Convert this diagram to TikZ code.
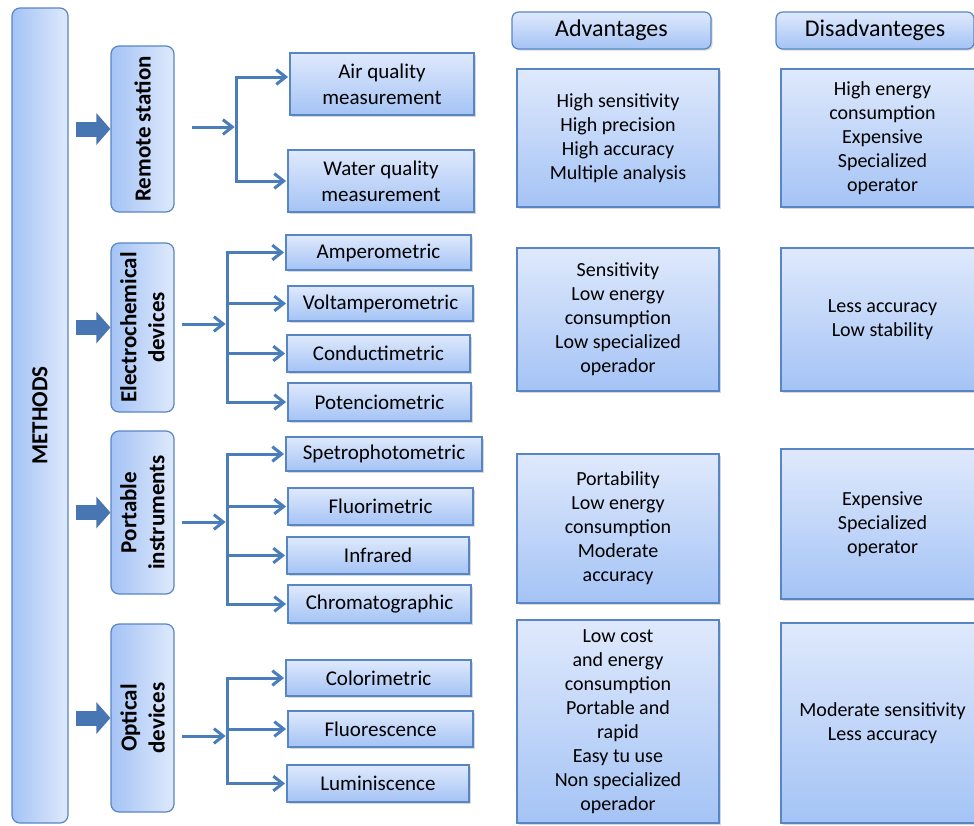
\documentclass[tikz,border=0pt]{standalone}
\usepackage{fontspec}
\setmainfont{Carlito}
\usepackage{tikz}
\usetikzlibrary{arrows.meta}
\usetikzlibrary{shadows}
\usetikzlibrary{calc}
\usepackage{xcolor}

\definecolor{boxline}{RGB}{88,134,196}
\definecolor{boxtop}{RGB}{223,233,252}
\definecolor{boxbottom}{RGB}{164,195,245}
\definecolor{linkblue}{RGB}{74,126,187}
\definecolor{bigblue}{RGB}{72,118,178}

\tikzset{
  softshadow/.style={drop shadow={shadow xshift=1.2pt,shadow yshift=-1.2pt,opacity=0.3}},
  leafbox/.style={draw=boxline,line width=0.9pt,top color=boxtop,bottom color=boxbottom,inner sep=0pt,align=center,font=\fontsize{15.75}{19.5}\selectfont,softshadow},
  infobox/.style={draw=boxline,line width=0.9pt,top color=boxtop,bottom color=boxbottom,inner sep=0pt,align=center,font=\fontsize{15}{18}\selectfont,softshadow},
  headbox/.style={draw=boxline,line width=0.9pt,rounded corners=5pt,top color=boxtop,bottom color=boxbottom,inner sep=0pt,font=\fontsize{18}{21}\selectfont,softshadow},
  sidebox/.style={draw=boxline,line width=0.9pt,rounded corners=6pt,rotate=90,left color=boxbottom,right color=boxtop,inner sep=0pt,align=center,font=\bfseries\fontsize{17.25}{21}\selectfont},
  bigarrow/.style={draw=bigblue,line width=11.25pt,-{Triangle[length=10.5pt,width=23.25pt]}},
  link/.style={draw=linkblue,line width=2.25pt,shorten >=1pt,-{Straight Barb[length=7pt,width=11pt]}},
  bar/.style={draw=linkblue,line width=2.25pt,line cap=rect}
}

\begin{document}
\begin{tikzpicture}[x=0.75pt,y=0.75pt,yscale=-1,xscale=1]
\path[fill=white,use as bounding box] (0,0) rectangle (974,825);
\clip (0,0) rectangle (974,825);

%Shape: Rounded Rect [methods]
\node[sidebox,minimum width=611.25pt,minimum height=42pt] (methods) at (40,415.5) {METHODS};

%Shape: Rounded Rect [groups]
\node[sidebox,minimum width=124.5pt,minimum height=47.25pt] (rs) at (142.5,129) {Remote station};
\node[sidebox,minimum width=126.75pt,minimum height=47.25pt] (ec) at (142.5,327.5) {Electrochemical\\devices};
\node[sidebox,minimum width=122.25pt,minimum height=47.25pt] (pi) at (142.5,512.5) {Portable\\instruments};
\node[sidebox,minimum width=141pt,minimum height=47.25pt] (od) at (142.5,718) {Optical\\devices};

%Shape: Rect [methods of each group]
\node[leafbox,minimum width=138pt,minimum height=46.5pt] (air) at (382,84) {Air quality\\measurement};
\node[leafbox,minimum width=139.5pt,minimum height=46.5pt] (water) at (381,181) {Water quality\\measurement};

\node[leafbox,minimum width=138.75pt,minimum height=26.25pt] (amp) at (378.5,252.5) {Amperometric};
\node[leafbox,minimum width=138.75pt,minimum height=26.25pt] (volt) at (380.5,303.5) {Voltamperometric};
\node[leafbox,minimum width=137.25pt,minimum height=27.75pt] (cond) at (378.5,353.5) {Conductimetric};
\node[leafbox,minimum width=137.25pt,minimum height=28.5pt] (pot) at (379.5,402) {Potenciometric};

\node[leafbox,minimum width=147pt,minimum height=25.5pt] (spet) at (384,454) {Spetrophotometric};
\node[leafbox,minimum width=138.75pt,minimum height=27.75pt] (fluo) at (380.5,506.5) {Fluorimetric};
\node[leafbox,minimum width=136.5pt,minimum height=27.75pt] (infra) at (378,555.5) {Infrared};
\node[leafbox,minimum width=137.25pt,minimum height=28.5pt] (chrom) at (379.5,604) {Chromatographic};

\node[leafbox,minimum width=138.75pt,minimum height=27pt] (color) at (378.5,678) {Colorimetric};
\node[leafbox,minimum width=138.75pt,minimum height=27pt] (fluor) at (380.5,729) {Fluorescence};
\node[leafbox,minimum width=136.5pt,minimum height=27.75pt] (lum) at (378,783.5) {Luminiscence};

%Shape: Rounded Rect [headers]
\node[headbox,minimum width=149.25pt,minimum height=27.75pt] (advhead) at (611.5,30.5) {Advantages};
\node[headbox,minimum width=148.5pt,minimum height=27.75pt] (dishead) at (875,30.5) {Disadvanteges};

%Shape: Rect [advantages]
\node[infobox,minimum width=151.5pt,minimum height=103.5pt] (adv1) at (618,138) {High sensitivity\\High precision\\High accuracy\\Multiple analysis};
\node[infobox,minimum width=151.5pt,minimum height=107.25pt] (adv2) at (618,319.5) {Sensitivity\\Low energy\\consumption\\Low specialized\\operador};
\node[infobox,minimum width=151.5pt,minimum height=111.75pt] (adv3) at (618,528.5) {Portability\\Low energy\\consumption\\Moderate\\accuracy};
\node[infobox,minimum width=151.5pt,minimum height=152.25pt] (adv4) at (618,721.5) {Low cost\\and energy\\consumption\\Portable and\\rapid\\Easy tu use\\Non specialized\\operador};

%Shape: Rect [disadvantages]
\node[infobox,minimum width=152.25pt,minimum height=103.5pt] (dis1) at (882.5,138) {High energy\\consumption\\Expensive\\Specialized\\operator};
\node[infobox,minimum width=152.25pt,minimum height=107.25pt] (dis2) at (882.5,319.5) {Less accuracy\\Low stability};
\node[infobox,minimum width=152.25pt,minimum height=112.5pt] (dis3) at (882.5,524) {Expensive\\Specialized\\operator};
\node[infobox,minimum width=152.25pt,minimum height=150pt] (dis4) at (882.5,723) {Moderate sensitivity\\Less accuracy};

%Block arrows
\foreach \grp in {rs,ec,pi,od}
  \draw[bigarrow] ($(methods.south |- \grp.north)+(7,0)$) -- (\grp.north);

%Remote station
\coordinate (rsbar) at (236,127);
\draw[link] ($(rs.south |- rsbar)+(17,0)$) -- (rsbar);
\draw[bar] ($(rsbar |- air.west)+(0,-7)$) -- (rsbar |- water.west);
\draw[link] ($(rsbar |- air.west)+(0,-7)$) -- ($(air.west)+(0,-7)$);
\draw[link] (rsbar |- water.west) -- (water.west);

%Electrochemical devices
\coordinate (ecbar) at (227,324);
\draw[link] ($(ec.south |- ecbar)+(7,0)$) -- (ecbar);
\draw[bar] (ecbar |- amp.west) -- (ecbar |- pot.west);
\foreach \leaf in {amp,volt,cond,pot}
  \draw[link] (ecbar |- \leaf.west) -- (\leaf.west);

%Portable instruments
\coordinate (pibar) at (227,522);
\draw[link] ($(pi.south |- pibar)+(7,0)$) -- (pibar);
\draw[bar] (pibar |- spet.west) -- (pibar |- chrom.west);
\foreach \leaf in {spet,fluo,infra,chrom}
  \draw[link] (pibar |- \leaf.west) -- (\leaf.west);

%Optical devices
\coordinate (odbar) at (227,736);
\draw[link] ($(od.south |- odbar)+(7,0)$) -- (odbar);
\draw[bar] (odbar |- color.west) -- (odbar |- lum.west);
\foreach \leaf in {color,fluor,lum}
  \draw[link] (odbar |- \leaf.west) -- (\leaf.west);

\end{tikzpicture}
\end{document}
